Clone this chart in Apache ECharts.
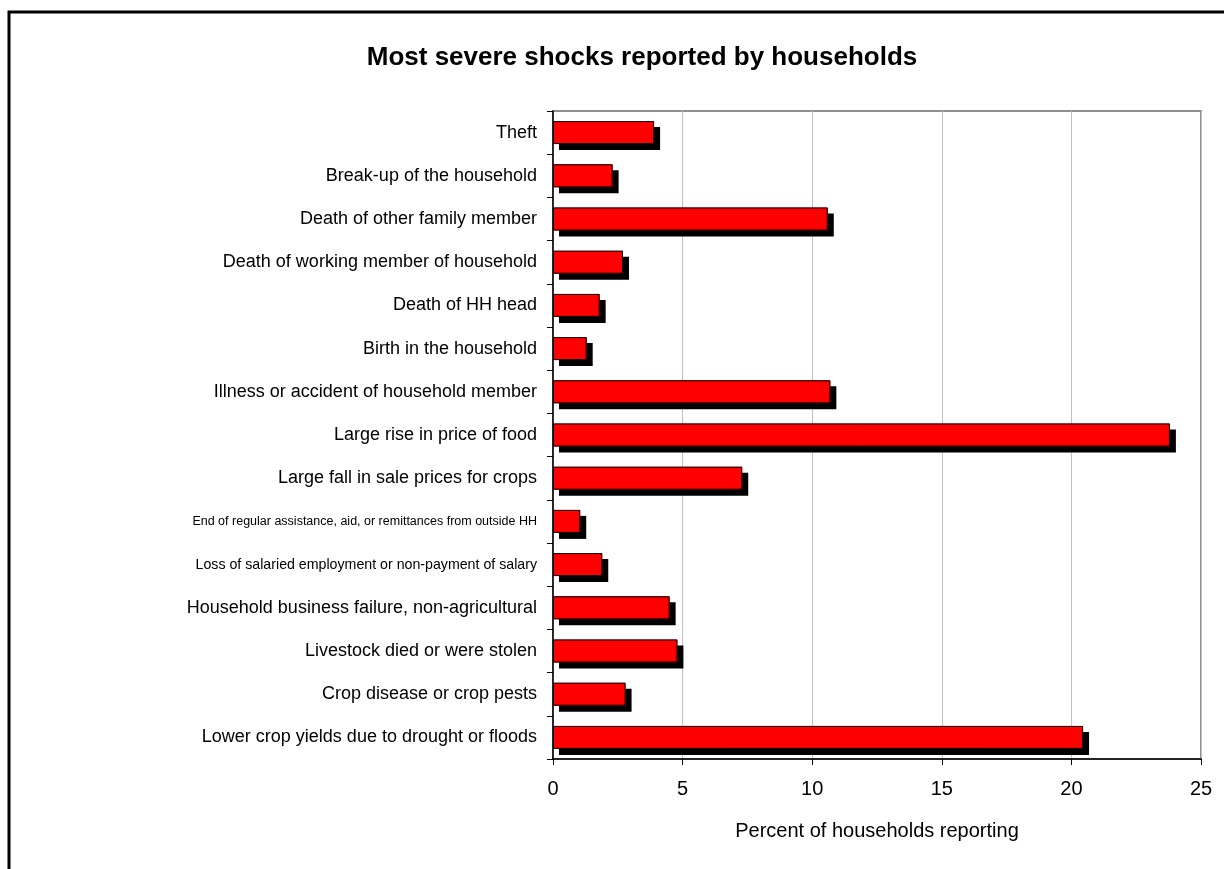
<!DOCTYPE html>
<html>
<head>
<meta charset="utf-8">
<script src="https://cdn.jsdelivr.net/npm/echarts@6/dist/echarts.min.js"></script>
<style>
  html, body { margin: 0; padding: 0; background: #fff; }
  #main { width: 1224px; height: 869px; }
</style>
</head>
<body>
<div id="main"></div>
<script>
// categories from top to bottom
var shocks = [
  'Theft',
  'Break-up of the household',
  'Death of other family member',
  'Death of working member of household',
  'Death of HH head',
  'Birth in the household',
  'Illness or accident of household member',
  'Large rise in price of food',
  'Large fall in sale prices for crops',
  'End of regular assistance, aid, or remittances from outside HH',
  'Loss of salaried employment or non-payment of salary',
  'Household business failure, non-agricultural',
  'Livestock died or were stolen',
  'Crop disease or crop pests',
  'Lower crop yields due to drought or floods'
];
var percents = [3.9, 2.3, 10.6, 2.7, 1.8, 1.3, 10.7, 23.8, 7.3, 1.05, 1.9, 4.5, 4.8, 2.8, 20.45];

var fontName = 'Liberation Sans, Arial, sans-serif';

// the two longest labels are squeezed in the original
var catData = shocks.map(function (s) {
  if (s.indexOf('End of regular') === 0) {
    return { value: s, textStyle: { fontSize: 12.5 } };
  }
  if (s.indexOf('Loss of salaried') === 0) {
    return { value: s, textStyle: { fontSize: 14.2 } };
  }
  return s;
});

var myChart = echarts.init(document.getElementById('main'));
myChart.setOption({
  animation: false,
  title: {
    text: 'Most severe shocks reported by households',
    left: 637,
    top: 40,
    textAlign: 'center',
    textStyle: { fontSize: 26, fontWeight: 'bold', color: '#000', fontFamily: fontName }
  },
  graphic: [{
    type: 'rect',
    shape: { x: 9, y: 12, width: 1400, height: 1000 },
    style: { fill: 'none', stroke: '#000', lineWidth: 3 }
  }],
  grid: {
    left: 553, right: 23, top: 111, bottom: 110,
    show: true,
    borderColor: '#909090',
    borderWidth: 2
  },
  xAxis: {
    type: 'value',
    min: 0, max: 25, interval: 5,
    name: 'Percent of households reporting',
    nameLocation: 'middle',
    nameGap: 62,
    nameTextStyle: { fontSize: 20, color: '#000', fontFamily: fontName },
    axisLine: { show: true, lineStyle: { color: '#000', width: 1.5 } },
    axisTick: { show: true, length: 6, lineStyle: { color: '#000' } },
    axisLabel: { fontSize: 20, color: '#000', margin: 20, fontFamily: fontName },
    splitLine: { show: true, lineStyle: { color: '#c0c0c0', width: 1 } }
  },
  yAxis: {
    type: 'category',
    data: catData,
    inverse: true,
    axisLine: { show: true, lineStyle: { color: '#000', width: 1.5 } },
    axisTick: { show: true, length: 6, lineStyle: { color: '#000' } },
    axisLabel: { fontSize: 18, color: '#000', margin: 16, fontFamily: fontName },
    splitLine: { show: false }
  },
  series: [{
    // red fill with hard black drop shadow
    type: 'bar',
    data: percents,
    barWidth: 23,
    z: 2,
    itemStyle: {
      color: '#ff0000',
      shadowColor: '#000',
      shadowBlur: 0,
      shadowOffsetX: 6,
      shadowOffsetY: 6
    }
  }, {
    // thin black outline on top
    type: 'bar',
    data: percents,
    barWidth: 23,
    barGap: '-100%',
    z: 3,
    silent: true,
    itemStyle: {
      color: 'rgba(0,0,0,0)',
      borderColor: '#000',
      borderWidth: 1
    }
  }]
});
</script>
</body>
</html>
